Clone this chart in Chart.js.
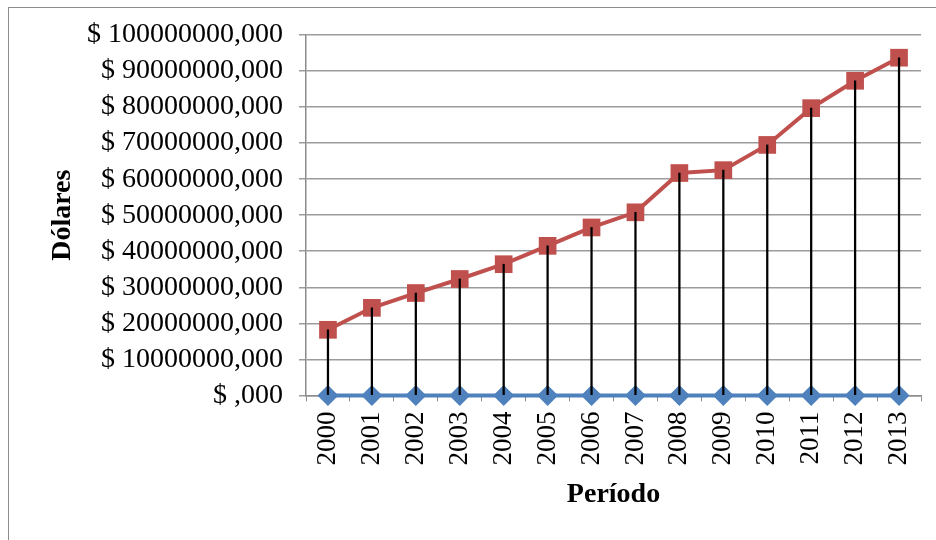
<!DOCTYPE html>
<html>
<head>
<meta charset="utf-8">
<script src="https://cdn.jsdelivr.net/npm/chart.js@4"></script>
<style>
  html, body { margin: 0; padding: 0; background: #fff; }
  #marco { position: absolute; left: 8px; top: 7px; width: 960px; height: 560px; border: 1px solid #8c8c8c; }
  #lienzo { position: absolute; left: 0; top: 0; }
</style>
</head>
<body>
<div id="marco"></div>
<canvas id="lienzo" width="936" height="540"></canvas>
<script>
const periodos = ['2000', '2001', '2002', '2003', '2004', '2005', '2006', '2007', '2008', '2009', '2010', '2011', '2012', '2013'];
const serieAzul = [0, 0, 0, 0, 0, 0, 0, 0, 0, 0, 0, 0, 0, 0];
const serieRoja = [18200000, 24300000, 28400000, 32300000, 36400000, 41500000, 46600000, 50800000,
                   61700000, 62500000, 69500000, 79700000, 87300000, 93700000];
const yMax = 100000000;
const yPaso = 10000000;

const ctx = document.getElementById('lienzo').getContext('2d');
const grafico = new Chart(ctx, {
    data: {
        labels: periodos,
        datasets: [
            {
                // lineas de caida
                type: 'bar',
                data: serieRoja,
                backgroundColor: '#000000',
                barThickness: 1.6,
                clip: false,
                order: 0
            },
            {
                type: 'line',
                data: serieRoja,
                borderColor: '#C0504D',
                backgroundColor: '#C0504D',
                borderWidth: 4,
                pointStyle: 'rect',
                pointRadius: 12.5,
                pointBorderWidth: 0,
                clip: false,
                order: 1
            },
            {
                type: 'line',
                data: serieAzul,
                borderColor: '#4F81BD',
                backgroundColor: '#4F81BD',
                borderWidth: 4,
                pointStyle: 'rectRot',
                pointRadius: 10.5,
                pointBorderWidth: 0,
                clip: false,
                order: 2
            }
        ]
    },
    options: {
        responsive: false,
        animation: false,
        layout: { padding: { left: 42, top: 35, right: 15, bottom: 24 } },
        plugins: { legend: { display: false }, tooltip: { enabled: false } },
        scales: {
            x: {
                offset: true,
                grid: { drawOnChartArea: false, color: '#8c8c8c', tickLength: 6, offset: true },
                border: { color: '#8c8c8c', width: 1.5 },
                ticks: {
                    minRotation: 90, maxRotation: 90, padding: 10, color: '#000',
                    font: { family: 'Liberation Serif', size: 27 }
                },
                title: {
                    display: true, text: 'Período', color: '#000',
                    font: { family: 'Liberation Serif', size: 28, weight: 'bold' }
                },
                afterFit: function (escala) {
                    escala.height = 120.6;
                    escala.paddingLeft = 0;
                    escala.paddingRight = 0;
                }
            },
            y: {
                min: 0,
                max: yMax,
                grid: { color: '#9b9b9b', lineWidth: 1.5, tickLength: 7 },
                border: { color: '#8c8c8c', width: 1.5 },
                ticks: {
                    stepSize: yPaso, padding: 16, color: '#000', autoSkip: false,
                    font: { family: 'Liberation Serif', size: 28 },
                    callback: function (v) { return v === 0 ? '$ ,000' : '$ ' + v + ',000'; }
                },
                title: {
                    display: true, text: 'Dólares', color: '#000',
                    font: { family: 'Liberation Serif', size: 28, weight: 'bold' }
                },
                afterFit: function (escala) { escala.width = 264; }
            }
        }
    }
});
</script>
</body>
</html>
